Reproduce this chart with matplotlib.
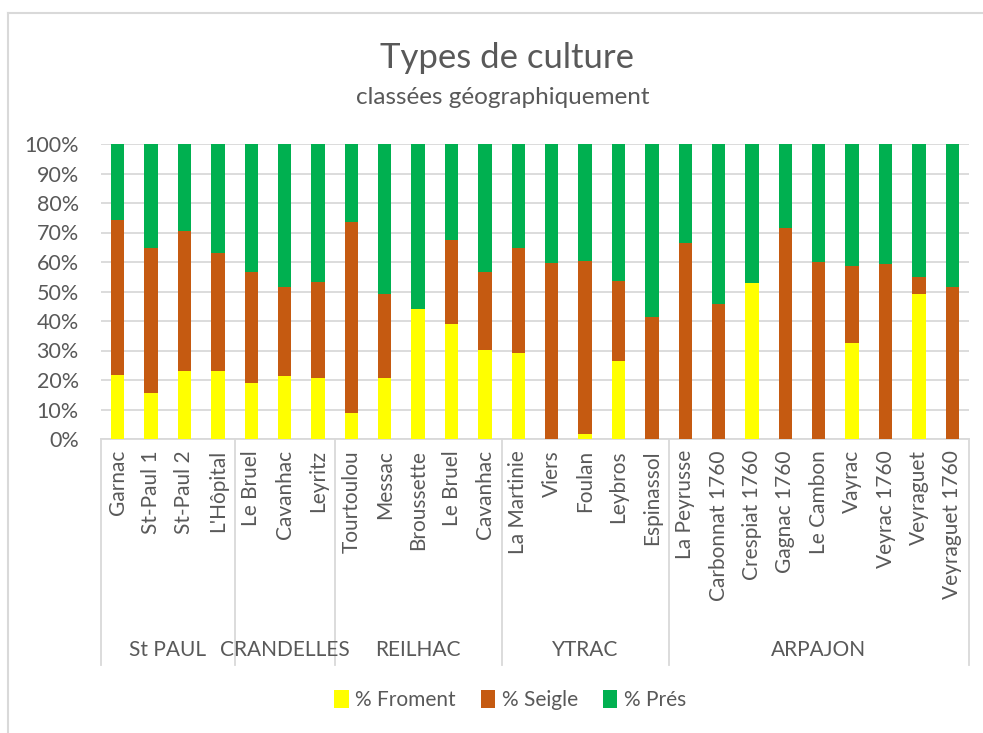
import numpy as np
import matplotlib.pyplot as plt
from matplotlib.lines import Line2D
from matplotlib.patches import Patch
import matplotlib.transforms as mtransforms

plt.rcParams['font.family'] = ['Lato', 'DejaVu Sans']

# lieux et communes
lieux = ['Garnac', 'St-Paul 1', 'St-Paul 2', "L'Hôpital",
         'Le Bruel', 'Cavanhac', 'Leyritz',
         'Tourtoulou', 'Messac', 'Broussette', 'Le Bruel', 'Cavanhac',
         'La Martinie', 'Viers', 'Foulan', 'Leybros', 'Espinassol',
         'La Peyrusse', 'Carbonnat 1760', 'Crespiat 1760', 'Gagnac 1760',
         'Le Cambon', 'Vayrac', 'Veyrac 1760', 'Veyraguet', 'Veyraguet 1760']
communes = ['St PAUL', 'CRANDELLES', 'REILHAC', 'YTRAC', 'ARPAJON']
nb_par_commune = [4, 3, 5, 5, 9]

# pourcentages
froment = [21.6, 15.5, 23.2, 22.9, 18.9, 21.4, 20.6, 8.7, 20.7, 44.1, 39.1, 30.1,
           29.3, 0, 1.8, 26.6, 0, 0, 0, 52.8, 0, 0, 32.4, 0, 49.0, 0]
seigle = [52.5, 49.1, 47.2, 40.0, 37.8, 30.0, 32.5, 64.7, 28.6, 0, 28.5, 26.5,
          35.6, 59.8, 58.4, 27.1, 41.4, 66.3, 45.9, 0, 71.6, 60.0, 26.4, 59.4, 5.9, 51.4]
pres = [25.9, 35.4, 29.6, 37.1, 43.3, 48.6, 46.9, 26.6, 50.7, 55.9, 32.4, 43.4,
        35.1, 40.2, 39.8, 46.3, 58.6, 33.7, 54.1, 47.2, 28.4, 40.0, 41.2, 40.6, 45.1, 48.6]

gris = '#595959'
ligne = '#D9D9D9'
couleurs = ['#FFFF00', '#C55A11', '#00B050']
noms = ['% Froment', '% Seigle', '% Prés']

W, H = 983, 733
fig = plt.figure(figsize=(W / 100, H / 100), dpi=100)
ax = fig.add_axes([101 / W, 1 - 439 / H, (969 - 101) / W, (439 - 144) / H])

data = np.array([froment, seigle, pres], dtype=float)
data = data / data.sum(axis=0) * 100
x = np.arange(len(lieux))
bas = np.zeros(len(lieux))
for vals, c in zip(data, couleurs):
    ax.bar(x, vals, bottom=bas, width=0.4, color=c, zorder=3)
    bas += vals

ax.set_xlim(-0.5, len(lieux) - 0.5)
ax.set_ylim(0, 100)
ax.set_yticks(np.arange(0, 101, 10))
ax.set_yticklabels([f'{v}%' for v in range(0, 101, 10)])
ax.yaxis.grid(True, color=ligne, lw=1.3, zorder=0)
ax.tick_params(axis='y', length=0, pad=16, labelsize=15.5, labelcolor=gris)
ax.set_xticks(x)
ax.set_xticklabels(lieux, rotation=90, va='top', ha='center')
ax.tick_params(axis='x', length=0, pad=8, labelsize=15, labelcolor=gris)
for s in ['top', 'right', 'left']:
    ax.spines[s].set_visible(False)
ax.spines['bottom'].set_color(ligne)
ax.spines['bottom'].set_linewidth(1.3)

# séparateurs et noms des communes
trans = mtransforms.blended_transform_factory(ax.transData, ax.transAxes)
y_bas = (439 - 665) / 295
y_nom = (439 - 650) / 295
debut = -0.5
for nom, n in zip(communes, nb_par_commune):
    ax.plot([debut, debut], [0, y_bas], color=ligne, lw=1.3, transform=trans, clip_on=False)
    ax.text(debut + n / 2, y_nom, nom, transform=trans, ha='center', va='center',
            fontsize=15, color=gris)
    debut += n
ax.plot([debut, debut], [0, y_bas], color=ligne, lw=1.3, transform=trans, clip_on=False)

fig.text(507 / W, 1 - 58 / H, 'Types de culture', ha='center', va='center', fontsize=25, color=gris)
fig.text(503 / W, 1 - 98 / H, 'classées géographiquement', ha='center', va='center', fontsize=17.5, color=gris)

handles = [Patch(facecolor=c) for c in couleurs]
fig.legend(handles, noms, loc='center', bbox_to_anchor=(510 / W, 1 - 700 / H), ncol=3,
           frameon=False, fontsize=15, labelcolor=gris, handlelength=0.7, handleheight=1.0,
           handletextpad=0.3, columnspacing=1.2)

# bordure du graphique
fig.add_artist(Line2D([8 / W, 8 / W], [1 - 13 / H, 0], color=ligne, lw=1.5))
fig.add_artist(Line2D([8 / W, 1], [1 - 13 / H, 1 - 13 / H], color=ligne, lw=1.5))

fig.savefig('out.png', dpi=100)
